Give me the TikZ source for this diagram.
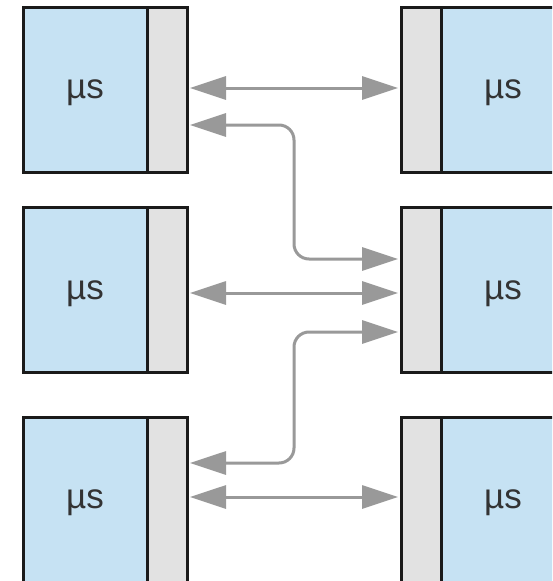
\documentclass[tikz,border=0pt]{standalone}
\usepackage{fontspec}
\setmainfont{Liberation Sans}
\usetikzlibrary{arrows.meta,calc}

\definecolor{msfill}{RGB}{198,226,243}
\definecolor{portfill}{RGB}{226,226,226}
\definecolor{boxline}{RGB}{26,26,26}
\definecolor{linkgray}{RGB}{153,153,153}
\definecolor{labelink}{RGB}{51,51,51}

\tikzset{
  svc/.style={draw=boxline, fill=msfill, line width=3pt, inner sep=0pt, outer sep=0pt,
    minimum width=124pt, minimum height=165pt, text depth=0pt,
    font=\fontsize{35}{40}\selectfont, text=labelink},
  port/.style={draw=boxline, fill=portfill, line width=3pt, inner sep=0pt, outer sep=0pt,
    minimum width=40pt, minimum height=165pt},
  link/.style={draw=linkgray, line width=3pt,
    {Triangle[length=36pt,width=23pt]}-{Triangle[length=36pt,width=23pt]},
    shorten <=3pt, shorten >=3pt},
}

\begin{document}
\begin{tikzpicture}[x=1pt,y=-1pt]
  \clip (0,0) rectangle (552,581);
  \fill[white] (0,0) rectangle (552,581);

  % left column: service body + port strip on its right
  \node[svc]  (l1) at (85,89.5)  {µs};
  \node[port] (l1p) at (167,89.5) {};
  \node[svc]  (l2) at (85,290)   {µs};
  \node[port] (l2p) at (167,290) {};
  \node[svc]  (l3) at (85,499.5) {µs};
  \node[port] (l3p) at (167,499.5) {};

  % right column: port strip on the left + service body
  \node[port] (r1p) at (421,89.5)  {};
  \node[svc]  (r1) at (503,89.5)   {µs};
  \node[port] (r2p) at (421,290)   {};
  \node[svc]  (r2) at (503,290)    {µs};
  \node[port] (r3p) at (421,499.5) {};
  \node[svc]  (r3) at (503,499.5)  {µs};

  % straight links between rows
  \draw[link] ([yshift=1.5pt]l1p.east) -- ([yshift=1.5pt]r1p.west);
  \draw[link] ([yshift=-3pt]l2p.east) -- ([yshift=-3pt]r2p.west);
  \draw[link] ([yshift=2.5pt]l3p.east) -- ([yshift=2.5pt]r3p.west);

  % crossing links into the middle right service
  \coordinate (a1) at ([yshift=-35.5pt]l1p.east);
  \coordinate (b1) at ([yshift=31pt]r2p.west);
  \draw[link, rounded corners=15pt] (a1) -| ($(a1)!0.5!(b1)$) |- (b1);

  \coordinate (a2) at ([yshift=36.5pt]l3p.east);
  \coordinate (b2) at ([yshift=-42pt]r2p.west);
  \draw[link, rounded corners=15pt] (a2) -| ($(a2)!0.5!(b2)$) |- (b2);
\end{tikzpicture}
\end{document}
